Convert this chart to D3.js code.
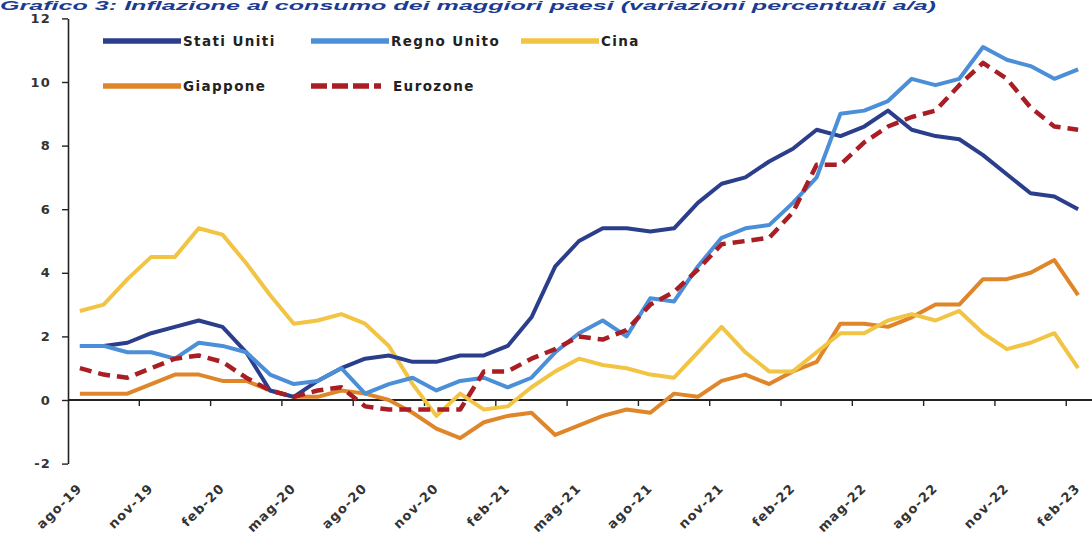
<!DOCTYPE html>
<html><head><meta charset="utf-8">
<script src="https://cdn.jsdelivr.net/npm/d3@7"></script>
<style>
body{margin:0;background:#fff;}
svg{display:block;}
text{font-family:"DejaVu Sans",sans-serif;}
</style>
</head><body><svg id="c" width="1092" height="534"></svg>
<script>
// ---- data ----
const months = ["ago-19","set-19","ott-19","nov-19","dic-19","gen-20","feb-20","mar-20","apr-20","mag-20","giu-20","lug-20",
  "ago-20","set-20","ott-20","nov-20","dic-20","gen-21","feb-21","mar-21","apr-21","mag-21","giu-21","lug-21",
  "ago-21","set-21","ott-21","nov-21","dic-21","gen-22","feb-22","mar-22","apr-22","mag-22","giu-22","lug-22",
  "ago-22","set-22","ott-22","nov-22","dic-22","gen-23","feb-23"];
const tickLabels = ["ago-19","nov-19","feb-20","mag-20","ago-20","nov-20","feb-21","mag-21","ago-21","nov-21","feb-22","mag-22","ago-22","nov-22","feb-23"];
const yTicks = [-2,0,2,4,6,8,10,12];
const statiUniti = [1.7,1.7,1.8,2.1,2.3,2.5,2.3,1.5,0.3,0.1,0.6,1.0,1.3,1.4,1.2,1.2,1.4,1.4,1.7,2.6,4.2,5.0,5.4,5.4,5.3,5.4,6.2,6.8,7.0,7.5,7.9,8.5,8.3,8.6,9.1,8.5,8.3,8.2,7.7,7.1,6.5,6.4,6.0];
const regnoUnito = [1.7,1.7,1.5,1.5,1.3,1.8,1.7,1.5,0.8,0.5,0.6,1.0,0.2,0.5,0.7,0.3,0.6,0.7,0.4,0.7,1.5,2.1,2.5,2.0,3.2,3.1,4.2,5.1,5.4,5.5,6.2,7.0,9.0,9.1,9.4,10.1,9.9,10.1,11.1,10.7,10.5,10.1,10.4];
const cina = [2.8,3.0,3.8,4.5,4.5,5.4,5.2,4.3,3.3,2.4,2.5,2.7,2.4,1.7,0.5,-0.5,0.2,-0.3,-0.2,0.4,0.9,1.3,1.1,1.0,0.8,0.7,1.5,2.3,1.5,0.9,0.9,1.5,2.1,2.1,2.5,2.7,2.5,2.8,2.1,1.6,1.8,2.1,1.0];
const giappone = [0.2,0.2,0.2,0.5,0.8,0.8,0.6,0.6,0.3,0.1,0.1,0.3,0.2,0.0,-0.4,-0.9,-1.2,-0.7,-0.5,-0.4,-1.1,-0.8,-0.5,-0.3,-0.4,0.2,0.1,0.6,0.8,0.5,0.9,1.2,2.4,2.4,2.3,2.6,3.0,3.0,3.8,3.8,4.0,4.4,3.3];
const eurozona = [1.0,0.8,0.7,1.0,1.3,1.4,1.2,0.7,0.3,0.1,0.3,0.4,-0.2,-0.3,-0.3,-0.3,-0.3,0.9,0.9,1.3,1.6,2.0,1.9,2.2,3.0,3.4,4.1,4.9,5.0,5.1,5.9,7.4,7.4,8.1,8.6,8.9,9.1,9.9,10.6,10.1,9.2,8.6,8.5];
const seriesNames = ["Stati Uniti","Regno Unito","Cina","Giappone","Eurozone"];
const title = "Grafico 3: Inflazione al consumo dei maggiori paesi (variazioni percentuali a/a)";

// ---- setup ----
const svg = d3.select("#c");
const x = d3.scaleBand().domain(months).range([68, 1090]).padding(0);
const y = d3.scaleLinear().domain([-2, 12]).range([463.6, 18.4]);
const cx = m => x(m) + x.bandwidth() / 2;

const series = [
  {name: seriesNames[3], values: giappone, color: "#e0862a", dash: null},
  {name: seriesNames[2], values: cina, color: "#f2c443", dash: null},
  {name: seriesNames[0], values: statiUniti, color: "#2b3e8c", dash: null},
  {name: seriesNames[1], values: regnoUnito, color: "#4b8fd8", dash: null},
  {name: seriesNames[4], values: eurozona, color: "#a91d24", dash: "12,7"}
];

// title
svg.append("text").attr("x", 0).attr("y", 10)
  .attr("textLength", 936).attr("lengthAdjust", "spacingAndGlyphs")
  .style("font-family", "'Liberation Sans',sans-serif")
  .style("font-size", "12px").style("font-weight", "bold").style("font-style", "italic")
  .attr("fill", "#1d3b93").text(title);

// y axis
const yAxis = svg.append("g").attr("transform", "translate(68,0)")
  .call(d3.axisLeft(y).tickValues(yTicks).tickSize(6).tickSizeOuter(0).tickPadding(11).tickFormat(d => String(d)));
yAxis.select(".domain").attr("stroke", "#222").attr("stroke-width", 1.6);
yAxis.selectAll(".tick line").attr("stroke", "#222").attr("stroke-width", 1.4);
yAxis.selectAll(".tick text").style("font-size", "13px").style("font-weight", "bold")
  .style("letter-spacing", "1.2px").attr("fill", "#333");

// x axis (at zero)
const y0 = y(0);
svg.append("line").attr("x1", 68).attr("x2", 1092).attr("y1", y0).attr("y2", y0)
  .attr("stroke", "#222").attr("stroke-width", 1.8);
const tickIdx = d3.range(3, months.length, 3);
svg.append("g").selectAll("line").data(tickIdx).join("line")
  .attr("x1", i => x(months[i])).attr("x2", i => x(months[i]))
  .attr("y1", y0).attr("y2", y0 + 6).attr("stroke", "#222").attr("stroke-width", 1.4);
svg.append("g").selectAll("text").data(tickLabels).join("text")
  .attr("transform", m => `translate(${cx(m) + 3},${489}) rotate(-45)`)
  .attr("text-anchor", "end")
  .style("font-size", "13px").style("font-weight", "bold").style("letter-spacing", "1.2px")
  .attr("fill", "#333").text(m => m);

// lines
const line = d3.line().x((d, i) => cx(months[i])).y(d => y(d)).curve(d3.curveLinear);
svg.append("g").selectAll("path").data(series).join("path")
  .attr("d", s => line(s.values)).attr("fill", "none")
  .attr("stroke", s => s.color).attr("stroke-width", s => s.dash ? 4.5 : 4)
  .attr("stroke-linejoin", "round")
  .attr("stroke-dasharray", s => s.dash);

// legend
const legend = [
  {s: series[2], x: 103, y: 41}, {s: series[3], x: 311, y: 41}, {s: series[1], x: 521, y: 41},
  {s: series[0], x: 103, y: 86}, {s: series[4], x: 311, y: 86}
];
const lg = svg.append("g").selectAll("g").data(legend).join("g")
  .attr("transform", d => `translate(${d.x},${d.y})`);
lg.append("line").attr("x1", 0).attr("x2", d => d.s.dash ? 70 : 78).attr("y1", 0).attr("y2", 0)
  .attr("stroke", d => d.s.color).attr("stroke-width", 5.5)
  .attr("stroke-dasharray", d => d.s.dash ? "16,5" : null);
lg.append("text").attr("x", d => d.s.dash ? 82 : 80).attr("y", 0).attr("dy", "0.35em")
  .style("font-size", "13.5px").style("font-weight", "bold").style("letter-spacing", "1.4px")
  .attr("fill", "#222").text(d => d.s.name);
</script>
</body></html>
